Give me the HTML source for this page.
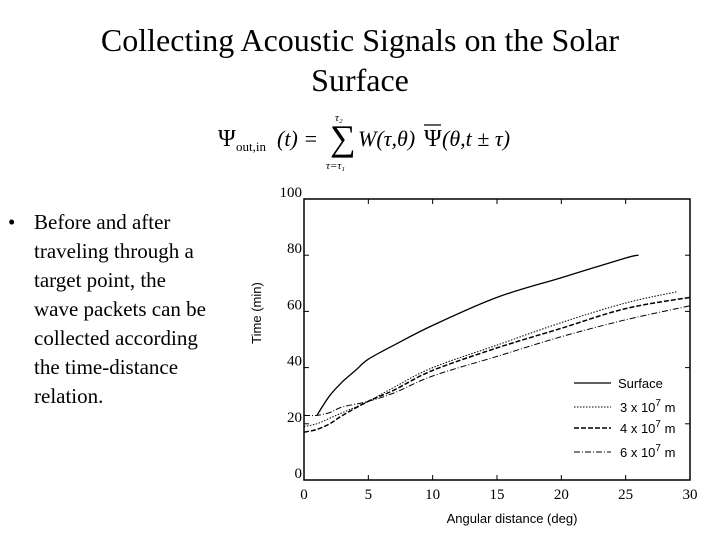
<!DOCTYPE html>
<html><head><meta charset="utf-8"><style>
body{margin:0;width:720px;height:540px;background:#fff;overflow:hidden;position:relative;font-family:"Liberation Serif",serif}
.t{position:absolute;left:0;width:720px;text-align:center;font-size:32px;line-height:40px}
#bul{position:absolute;left:8px;top:208px;font-size:21px;line-height:29px}
#bul span{position:absolute;left:26px;width:240px;white-space:nowrap}
</style></head><body>
<div class="t" style="top:20px">Collecting Acoustic Signals on the Solar</div>
<div class="t" style="top:60px">Surface</div>
<svg width="720" height="540" style="position:absolute;left:0;top:0">
<g font-family="Liberation Serif,serif" fill="#000">
<text x="218" y="146" font-size="24">Ψ</text>
<text x="236" y="151" font-size="13">out,in</text>
<text x="277" y="146" font-size="22" font-style="italic">(t) =</text>
<text x="330" y="150" font-size="36">∑</text>
<text x="335" y="121" font-size="11" font-style="italic">τ₂</text>
<text x="326" y="169" font-size="11" font-style="italic">τ=τ₁</text>
<text x="358" y="146" font-size="22" font-style="italic">W(τ,θ)</text>
<line x1="424" y1="125" x2="441" y2="125" stroke="#000" stroke-width="1.2"/>
<text x="424" y="146" font-size="24">Ψ</text>
<text x="442" y="146" font-size="22" font-style="italic">(θ,t ± τ)</text>
</g>
<g id="chart"></g>
</svg>
<div id="bul">•
<span style="top:0">Before and after</span>
<span style="top:29px">traveling through a</span>
<span style="top:58px">target point, the</span>
<span style="top:87px">wave packets can be</span>
<span style="top:116px">collected according</span>
<span style="top:145px">the time-distance</span>
<span style="top:174px">relation.</span>
</div>
<script>
const xTicks=[0,5,10,15,20,25,30];
const yTicks=[0,20,40,60,80,100];
const seriesNames=["Surface","3 x 10","4 x 10","6 x 10"];
const xSurface=[1,2,3,4,5,7,10,15,20,25,26];
const ySurface=[23,30,35,39,43,48,55,65,72,79,80];
const x3=[0,1,2,3,5,7,10,15,20,25,29];
const y3=[19,20,22,24,28,33,40,48,56,63,67];
const x4=[0,1,2,3,5,7,10,15,20,25,30];
const y4=[17,18,20,23,28,32,39,47,54,61,65];
const x6=[0,1,2,3,5,7,10,15,20,25,30];
const y6=[23,23,24,26,28,31,37,44,51,57,62];
const X0=304,X1=690,Y0=480,Y1=199;
const sx=v=>X0+(v/30)*(X1-X0), sy=v=>Y0-(v/100)*(Y0-Y1);
const NS="http://www.w3.org/2000/svg", g=document.getElementById('chart');
function mk(t,a,p){const e=document.createElementNS(NS,t);for(const k in a)e.setAttribute(k,a[k]);(p||g).appendChild(e);return e;}
const frame=mk('rect',{x:X0,y:Y1,width:X1-X0,height:Y0-Y1,fill:'none',stroke:'#000','stroke-width':1.5});


xTicks.forEach(v=>{
 mk('line',{x1:sx(v),x2:sx(v),y1:Y0,y2:Y0-5,stroke:'#000'});
 mk('line',{x1:sx(v),x2:sx(v),y1:Y1,y2:Y1+5,stroke:'#000'});
 const t=mk('text',{x:sx(v),y:Y0+19,'text-anchor':'middle','font-size':15,'font-family':'Liberation Serif,serif'});
 t.textContent=v;
 
 
});
yTicks.forEach(v=>{
 mk('line',{x1:X0,x2:X0+5,y1:sy(v),y2:sy(v),stroke:'#000'});
 mk('line',{x1:X1,x2:X1-5,y1:sy(v),y2:sy(v),stroke:'#000'});
 const t=mk('text',{x:X0-2,y:sy(v)-2,'text-anchor':'end','font-size':15,'font-family':'Liberation Serif,serif'});
 t.textContent=v;
 
 
});
const xl=mk('text',{x:512,y:523,'text-anchor':'middle','font-size':13,'font-family':'Liberation Sans,sans-serif'});
xl.textContent='Angular distance (deg)';


const yl=mk('text',{x:0,y:0,transform:'translate(261,313) rotate(-90)','text-anchor':'middle','font-size':13,'font-family':'Liberation Sans,sans-serif'});
yl.textContent='Time (min)';


const styles=[{d:'',w:1.3},{d:'1.5 1.5',w:1},{d:'5 2',w:1.5},{d:'6 2 1 2',w:1}];
const data=[[xSurface,ySurface],[x3,y3],[x4,y4],[x6,y6]];
function smooth(px,py){
 let d='M'+px[0].toFixed(1)+','+py[0].toFixed(1);
 for(let j=0;j<px.length-1;j++){
  const a=Math.max(j-1,0),b=Math.min(j+2,px.length-1);
  const c1x=px[j]+(px[j+1]-px[a])/6,c1y=py[j]+(py[j+1]-py[a])/6;
  const c2x=px[j+1]-(px[b]-px[j])/6,c2y=py[j+1]-(py[b]-py[j])/6;
  d+=' C'+c1x.toFixed(1)+','+c1y.toFixed(1)+' '+c2x.toFixed(1)+','+c2y.toFixed(1)+' '+px[j+1].toFixed(1)+','+py[j+1].toFixed(1);
 }
 return d;
}
data.forEach((s,i)=>{
 const d=smooth(s[0].map(sx),s[1].map(sy));
 const p=mk('path',{d:d,fill:'none',stroke:'#000','stroke-width':styles[i].w,'stroke-dasharray':styles[i].d});
 
 
});
const ly=[383,407,428,452];
seriesNames.forEach((n,i)=>{
 mk('line',{x1:574,x2:611,y1:ly[i],y2:ly[i],stroke:'#000','stroke-width':styles[i].w,'stroke-dasharray':styles[i].d});
 const t=mk('text',{x:i?620:618,y:ly[i]+5,'font-size':13,'font-family':'Liberation Sans,sans-serif'});
 t.textContent=n;
 
 
 if(i){
  const s=mk('tspan',{dy:-6,'font-size':10},t);s.textContent='7';
  const m=mk('tspan',{dy:6},t);m.textContent=' m';
 }
});
</script>
</body></html>
